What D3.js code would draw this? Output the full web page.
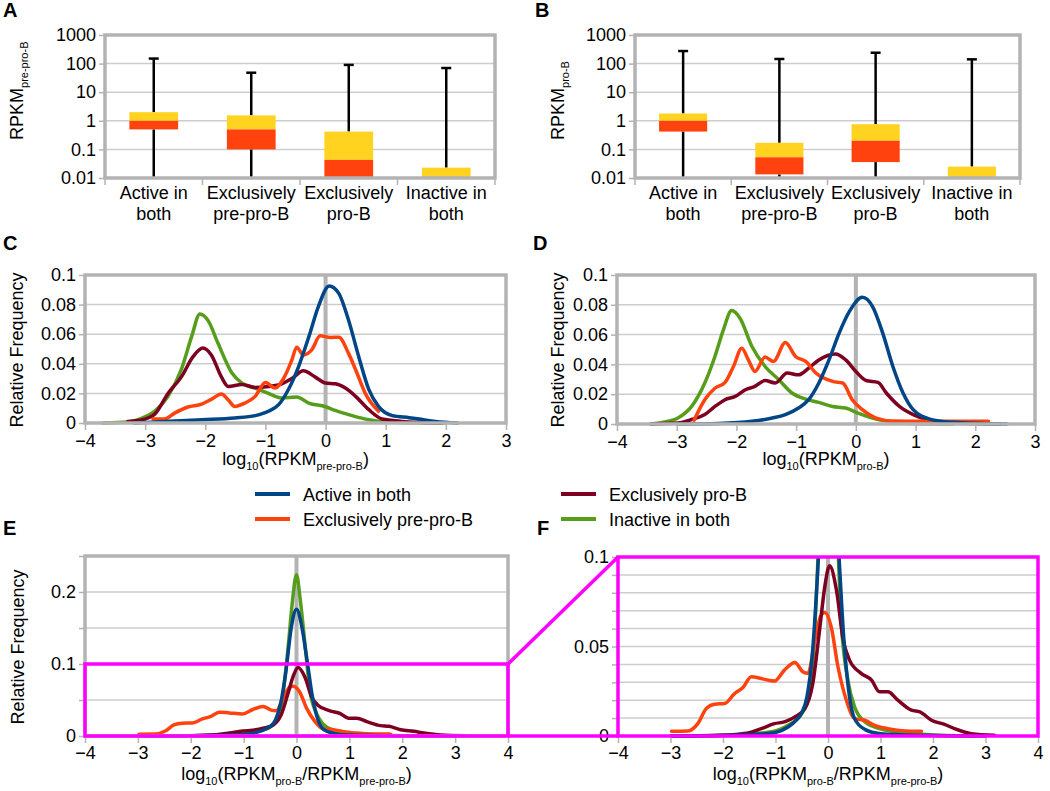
<!DOCTYPE html>
<html><head><meta charset="utf-8">
<script src="https://cdn.jsdelivr.net/npm/d3@7"></script>
<style>body{margin:0;background:#fff} text{font-family:"Liberation Sans",Arial,sans-serif;fill:#000}</style>
</head><body><svg id="c" width="1050" height="791"></svg>
<script>
// ---------- DATA ----------
const categories = ["Active in both","Exclusively pre-pro-B","Exclusively pro-B","Inactive in both"];
const categoryLines = [["Active in","both"],["Exclusively","pre-pro-B"],["Exclusively","pro-B"],["Inactive in","both"]];
const logTicks = [0.01,0.1,1,10,100,1000];

const boxA_min    = [0.01, 0.01, 0.01, 0.01];
const boxA_q1     = [0.5, 0.1, 0.01, 0.01];
const boxA_median = [1.0, 0.5, 0.043, 0.01];
const boxA_q3     = [2.0, 1.55, 0.42, 0.023];
const boxA_max    = [150, 48, 90, 70];

const boxB_min    = [0.01, 0.01, 0.01, 0.01];
const boxB_q1     = [0.42, 0.0134, 0.036, 0.01];
const boxB_median = [1.0, 0.053, 0.2, 0.01];
const boxB_q3     = [1.8, 0.17, 0.76, 0.025];
const boxB_max    = [275, 145, 240, 141];

const seriesNames = ["Active in both","Exclusively pre-pro-B","Exclusively pro-B","Inactive in both"];

// Panel C: log10(RPKM pre-pro-B) density  [x, frequency]
const C_active = [[-3.18,0],[-2.62,0.0011],[-2.06,0.0022],[-1.51,0.0034],[-1.17,0.005],[-0.95,0.0079],[-0.78,0.0124],[-0.62,0.0225],[-0.45,0.038],[-0.28,0.058],[-0.12,0.0787],[0.06,0.0926],[0.22,0.0876],[0.38,0.0697],[0.55,0.045],[0.72,0.0225],[0.88,0.0112],[1.11,0.005],[1.39,0.0036],[1.55,0.0027],[1.83,0.0011],[2.19,0]];
const C_prepro = [[-2.87,0.0027],[-2.68,0.0027],[-2.51,0.0067],[-2.29,0.0108],[-2.06,0.0128],[-1.9,0.016],[-1.73,0.0196],[-1.62,0.0157],[-1.51,0.0112],[-1.34,0.0135],[-1.17,0.018],[-1.0,0.0274],[-0.84,0.0236],[-0.7,0.030],[-0.56,0.0427],[-0.48,0.0512],[-0.37,0.046],[-0.23,0.0494],[-0.09,0.0589],[0.08,0.0578],[0.22,0.058],[0.38,0.0472],[0.5,0.036],[0.66,0.020],[0.88,0.0079]];
const C_pro = [[-3.29,0.001],[-3.07,0.002],[-2.84,0.006],[-2.62,0.02],[-2.4,0.031],[-2.2,0.045],[-2.04,0.0506],[-1.9,0.046],[-1.73,0.031],[-1.62,0.0247],[-1.39,0.026],[-1.17,0.024],[-0.95,0.0247],[-0.73,0.0265],[-0.56,0.030],[-0.37,0.0353],[-0.17,0.031],[0,0.027],[0.16,0.0265],[0.33,0.0236],[0.5,0.018],[0.72,0.009],[0.94,0.0027],[1.27,0.0011],[1.61,0.0004],[1.94,0]];
const C_inactive = [[-3.7,0],[-3.29,0.0007],[-3.07,0.003],[-2.84,0.008],[-2.62,0.018],[-2.4,0.036],[-2.23,0.058],[-2.09,0.0737],[-1.95,0.069],[-1.79,0.054],[-1.56,0.034],[-1.39,0.027],[-1.17,0.0236],[-0.95,0.020],[-0.73,0.0169],[-0.48,0.0175],[-0.28,0.0135],[0,0.011],[0.16,0.0085],[0.44,0.005],[0.72,0.0022],[1.0,0.0007],[1.55,0.0001],[2.0,0]];

// Panel D: log10(RPKM pro-B) density
const D_active = [[-3.0,0],[-2.3,0.0004],[-1.74,0.0018],[-1.4,0.004],[-1.18,0.0063],[-0.96,0.0107],[-0.79,0.0163],[-0.62,0.0275],[-0.45,0.043],[-0.28,0.061],[-0.11,0.0754],[0.11,0.085],[0.28,0.0788],[0.45,0.061],[0.62,0.0386],[0.79,0.0208],[0.96,0.0096],[1.24,0.0033],[1.63,0.0011],[2.19,0.0002],[2.53,0]];
const D_prepro = [[-2.71,0.0025],[-2.53,0.0163],[-2.36,0.024],[-2.19,0.0279],[-2.05,0.0386],[-1.91,0.0509],[-1.8,0.043],[-1.69,0.0353],[-1.52,0.0449],[-1.38,0.042],[-1.18,0.0547],[-1.01,0.0453],[-0.84,0.042],[-0.67,0.0342],[-0.39,0.0286],[-0.22,0.0275],[-0.06,0.0163],[0.11,0.0096],[0.34,0.004],[0.62,0.002],[1.07,0.0018],[1.63,0.0018],[2.22,0.0018]];
const D_pro = [[-3.43,0],[-2.98,0.0007],[-2.75,0.003],[-2.53,0.0063],[-2.36,0.0118],[-2.19,0.0163],[-2.02,0.0185],[-1.85,0.023],[-1.69,0.0252],[-1.52,0.0292],[-1.35,0.0275],[-1.15,0.0342],[-0.96,0.033],[-0.79,0.0375],[-0.62,0.043],[-0.34,0.047],[-0.17,0.043],[0,0.0353],[0.17,0.0292],[0.37,0.0279],[0.51,0.0208],[0.73,0.0118],[0.96,0.0063],[1.24,0.0025],[1.63,0.0007],[2.42,0]];
const D_inactive = [[-3.43,0],[-3.2,0.0013],[-2.98,0.004],[-2.75,0.0118],[-2.53,0.0275],[-2.36,0.0453],[-2.22,0.063],[-2.08,0.0761],[-1.94,0.071],[-1.74,0.052],[-1.52,0.0386],[-1.29,0.0297],[-1.07,0.0208],[-0.84,0.0167],[-0.62,0.0145],[-0.39,0.0118],[-0.17,0.0107],[0.06,0.0069],[0.34,0.0033],[0.67,0.0011],[1.07,0.0002],[1.63,0]];

// Panels E/F: log10(RPKM pro-B / RPKM pre-pro-B) density
const E_active = [[-3,0],[-2,0.0003],[-1.4,0.0009],[-1.0,0.002],[-0.76,0.005],[-0.6,0.009],[-0.5,0.013],[-0.4,0.022],[-0.3,0.045],[-0.2,0.09],[-0.1,0.15],[0,0.176],[0.1,0.152],[0.2,0.105],[0.3,0.055],[0.4,0.024],[0.5,0.01],[0.7,0.0037],[1.0,0.0013],[1.8,0.0004],[3.0,0]];
const E_prepro = [[-2.98,0.0026],[-2.67,0.0028],[-2.48,0.0069],[-2.32,0.0153],[-2.16,0.0178],[-1.97,0.0181],[-1.78,0.0237],[-1.62,0.0271],[-1.46,0.0331],[-1.27,0.0321],[-1.02,0.0307],[-0.83,0.0368],[-0.63,0.0411],[-0.48,0.0359],[-0.38,0.035],[-0.25,0.0536],[-0.13,0.0677],[-0.06,0.069],[0.06,0.0611],[0.19,0.0387],[0.35,0.02],[0.51,0.0097],[0.7,0.0088],[0.89,0.006],[1.14,0.0041],[1.46,0.0028],[1.78,0.0026]];
const E_pro = [[-2.98,0],[-2.03,0.0004],[-1.52,0.0017],[-1.27,0.0041],[-1.02,0.0069],[-0.83,0.0079],[-0.63,0.0107],[-0.44,0.0153],[-0.29,0.0293],[-0.16,0.0593],[-0.06,0.0836],[0.03,0.0951],[0.16,0.0817],[0.29,0.0536],[0.41,0.0424],[0.63,0.035],[0.83,0.0312],[0.98,0.0247],[1.14,0.0247],[1.33,0.02],[1.59,0.0144],[1.75,0.0135],[1.97,0.0088],[2.22,0.0065],[2.41,0.0041],[2.73,0.0013],[3.17,0.0004]];
const E_inactive = [[-2.8,0],[-2.0,0.0004],[-1.4,0.0013],[-1.0,0.0028],[-0.76,0.006],[-0.5,0.0125],[-0.38,0.021],[-0.28,0.045],[-0.15,0.13],[-0.08,0.185],[0,0.224],[0.07,0.19],[0.17,0.12],[0.25,0.065],[0.38,0.031],[0.51,0.016],[0.7,0.008],[1.0,0.004],[1.46,0.0019],[2.1,0.0004],[2.8,0]];

const ticksCD_y = [0,0.02,0.04,0.06,0.08,0.1];
const ticksE_y = [0,0.05,0.1,0.15,0.2,0.25];
const labelsE_y = [0,0.1,0.2];
const ticksF_y = [0,0.01,0.02,0.03,0.04,0.05,0.06,0.07,0.08,0.09,0.1];
const labelsF_y = [0,0.05,0.1];

// ---------- STYLE ----------
const seriesColors = ["#004586","#ff420e","#7e0021","#579d1c"];
const GRAY = "#b3b3b3", GRID = "#cdcdcd", MAGENTA = "#ff00ff";
const svg = d3.select("#c");
const fmt = d3.format("~g");

function rich(parent, x, y, parts, opts = {}) {
  const t = parent.append("text").attr("font-size", opts.size || 18).attr("text-anchor", opts.anchor || "middle");
  if (opts.rotate) t.attr("transform", `translate(${x},${y}) rotate(-90)`);
  else t.attr("x", x).attr("y", y);
  let shifted = false;
  parts.forEach(([s, sub]) => {
    const ts = t.append("tspan").text(s);
    if (sub) { ts.attr("font-size", 11); if (!shifted) { ts.attr("dy", 5); shifted = true; } }
    else if (shifted) { ts.attr("dy", -5); shifted = false; }
  });
  return t;
}
function letter(s, x, y) {
  svg.append("text").attr("x", x).attr("y", y).attr("font-size", 20).attr("font-weight", "bold").text(s);
}
function styleAxis(sel) {
  sel.select(".domain").remove();
  sel.selectAll(".tick line").attr("stroke", GRAY).attr("stroke-width", 1.5);
  sel.selectAll(".tick text").attr("font-size", 18).attr("font-family", '"Liberation Sans",Arial,sans-serif').attr("fill", "#000");
}

// ---------- BOX PANELS ----------
function boxPanel(o) {
  const g = svg.append("g");
  const x = d3.scaleBand().domain(categories).range([o.left, o.right]);
  const y = d3.scaleLog().domain([0.01, 1000]).range([o.bottom, o.top]);
  g.selectAll(null).data(logTicks.slice(1, -1)).join("line")
    .attr("x1", o.left).attr("x2", o.right).attr("y1", d => y(d)).attr("y2", d => y(d))
    .attr("stroke", GRID).attr("stroke-width", 1.5);
  const bw = x.bandwidth() * 0.5;
  categories.forEach((c, i) => {
    const cx = x(c) + x.bandwidth() / 2;
    g.append("line").attr("x1", cx).attr("x2", cx).attr("y1", y(o.max[i])).attr("y2", y(o.q3[i])).attr("stroke", "#000").attr("stroke-width", 2.5);
    g.append("line").attr("x1", cx - 5).attr("x2", cx + 5).attr("y1", y(o.max[i])).attr("y2", y(o.max[i])).attr("stroke", "#000").attr("stroke-width", 2.5);
    if (o.q1[i] > o.min[i])
      g.append("line").attr("x1", cx).attr("x2", cx).attr("y1", y(o.q1[i])).attr("y2", y(o.min[i])).attr("stroke", "#000").attr("stroke-width", 2.5);
    g.append("rect").attr("x", cx - bw / 2).attr("width", bw).attr("y", y(o.q3[i])).attr("height", y(o.median[i]) - y(o.q3[i])).attr("fill", "#ffd320");
    g.append("rect").attr("x", cx - bw / 2).attr("width", bw).attr("y", y(o.median[i])).attr("height", y(o.q1[i]) - y(o.median[i])).attr("fill", "#ff420e");
    categoryLines[i].forEach((s, k) => g.append("text").attr("x", cx).attr("y", o.bottom + 21 + k * 21).attr("text-anchor", "middle").attr("font-size", 18).text(s));
  });
  const bounds = categories.map(c => x(c)).concat([o.right]);
  g.selectAll(null).data(bounds).join("line").attr("x1", d => d).attr("x2", d => d).attr("y1", o.bottom).attr("y2", o.bottom + 7).attr("stroke", GRAY).attr("stroke-width", 1.5);
  g.append("rect").attr("x", o.left).attr("y", o.top).attr("width", o.right - o.left).attr("height", o.bottom - o.top).attr("fill", "none").attr("stroke", GRAY).attr("stroke-width", 3.5);
  const ax = g.append("g").attr("transform", `translate(${o.left - 1},0)`).call(d3.axisLeft(y).tickValues(logTicks).tickFormat(fmt).tickSize(5).tickPadding(3));
  styleAxis(ax);
  rich(g, o.ylabX, 140, [["RPKM", false], [o.ylabSub, true]], { rotate: true, anchor: "start" });
}

boxPanel({ left: 105, right: 495, top: 35, bottom: 178, min: boxA_min, q1: boxA_q1, median: boxA_median, q3: boxA_q3, max: boxA_max, ylabX: 23, ylabSub: "pre-pro-B" });
boxPanel({ left: 635, right: 1020, top: 35, bottom: 178, min: boxB_min, q1: boxB_q1, median: boxB_median, q3: boxB_q3, max: boxB_max, ylabX: 564, ylabSub: "pro-B" });

// ---------- CURVE PANELS ----------
function curvePanel(o) {
  const g = svg.append("g");
  const x = d3.scaleLinear().domain(o.xdom).range([o.left, o.right]);
  const y = d3.scaleLinear().domain(o.ydom).range([o.bottom, o.top]);
  g.selectAll(null).data(o.grid).join("line")
    .attr("x1", o.left).attr("x2", o.right).attr("y1", d => y(d)).attr("y2", d => y(d))
    .attr("stroke", GRID).attr("stroke-width", 1.5);
  g.append("line").attr("x1", x(0)).attr("x2", x(0)).attr("y1", o.top).attr("y2", o.bottom).attr("stroke", GRAY).attr("stroke-width", 4);
  const id = "clip" + o.id;
  svg.append("clipPath").attr("id", id).append("rect").attr("x", o.left - 5).attr("y", o.top).attr("width", o.right - o.left + 10).attr("height", o.bottom - o.top + 6);
  const line = d3.line().x(d => x(d[0])).y(d => y(d[1])).curve(d3.curveMonotoneX);
  const cg = g.append("g").attr("clip-path", `url(#${id})`);
  o.order.forEach(i => cg.append("path").attr("d", line(o.series[i])).attr("fill", "none")
    .attr("stroke", seriesColors[i]).attr("stroke-width", 3.5).attr("stroke-linejoin", "round").attr("stroke-linecap", "round"));
  const xa = g.append("g").attr("transform", `translate(0,${o.bottom + 1})`)
    .call(d3.axisBottom(x).tickValues(d3.range(o.xdom[0], o.xdom[1] + 1)).tickFormat(d3.format("d")).tickSize(6).tickPadding(o.xpad));
  styleAxis(xa);
  const ya = g.append("g").attr("transform", `translate(${o.left - 1},0)`)
    .call(d3.axisLeft(y).tickValues(o.yticks).tickFormat(d => o.ylabels.some(v => Math.abs(v - d) < 1e-9) ? fmt(d) : "").tickSize(5).tickPadding(3));
  styleAxis(ya);
  g.append("rect").attr("x", o.left).attr("y", o.top).attr("width", o.right - o.left).attr("height", o.bottom - o.top)
    .attr("fill", "none").attr("stroke", o.frameColor || GRAY).attr("stroke-width", o.frameWidth || 3.5);
  if (o.ylab) g.append("text").attr("transform", `translate(${o.ylabX},${o.ylabY}) rotate(-90)`).attr("text-anchor", "middle").attr("font-size", 18).text("Relative Frequency");
  rich(g, (o.left + o.right) / 2, o.titleY, o.title);
  return { x, y };
}

curvePanel({ id: "C", left: 85, right: 506, top: 275, bottom: 423, xdom: [-4, 3], ydom: [0, 0.1], grid: ticksCD_y, yticks: ticksCD_y, ylabels: ticksCD_y,
  series: [C_active, C_prepro, C_pro, C_inactive], order: [3, 2, 1, 0], xpad: 4, ylab: true, ylabX: 23, ylabY: 350, titleY: 465,
  title: [["log", false], ["10", true], ["(RPKM", false], ["pre-pro-B", true], [")", false]] });
curvePanel({ id: "D", left: 617, right: 1035, top: 275, bottom: 424, xdom: [-4, 3], ydom: [0, 0.1], grid: ticksCD_y, yticks: ticksCD_y, ylabels: ticksCD_y,
  series: [D_active, D_prepro, D_pro, D_inactive], order: [3, 2, 1, 0], xpad: 4, ylab: true, ylabX: 564, ylabY: 350, titleY: 465,
  title: [["log", false], ["10", true], ["(RPKM", false], ["pro-B", true], [")", false]] });

const ratioTitle = [["log", false], ["10", true], ["(RPKM", false], ["pro-B", true], ["/RPKM", false], ["pre-pro-B", true], [")", false]];
const pE = curvePanel({ id: "E", left: 85, right: 508, top: 556, bottom: 736, xdom: [-4, 4], ydom: [0, 0.25], grid: ticksE_y, yticks: ticksE_y, ylabels: labelsE_y,
  series: [E_active, E_prepro, E_pro, E_inactive], order: [3, 1, 2, 0], xpad: 3, ylab: true, ylabX: 24, ylabY: 647, titleY: 780, title: ratioTitle });
const pF = curvePanel({ id: "F", left: 618, right: 1038, top: 557, bottom: 736, xdom: [-4, 4], ydom: [0, 0.1], grid: ticksF_y, yticks: ticksF_y, ylabels: labelsF_y,
  series: [E_active, E_prepro, E_pro, E_inactive], order: [3, 1, 2, 0], xpad: 3, ylab: false, titleY: 780, title: ratioTitle,
  frameColor: MAGENTA, frameWidth: 3.5 });

svg.append("rect").attr("x", pE.x(-4)).attr("y", pE.y(0.1)).attr("width", pE.x(4) - pE.x(-4)).attr("height", pE.y(0) - pE.y(0.1))
  .attr("fill", "none").attr("stroke", MAGENTA).attr("stroke-width", 3.5);
svg.append("line").attr("x1", pE.x(4)).attr("y1", pE.y(0.1)).attr("x2", pF.x(-4)).attr("y2", pF.y(0.1)).attr("stroke", MAGENTA).attr("stroke-width", 3.5);
svg.append("line").attr("x1", pE.x(4)).attr("y1", pE.y(0)).attr("x2", pF.x(-4)).attr("y2", pF.y(0)).attr("stroke", MAGENTA).attr("stroke-width", 3.5);

// ---------- LEGEND ----------
const legendPos = [[255, 494], [255, 519], [561, 494], [561, 519]];
seriesNames.forEach((n, i) => {
  const [lx, ly] = legendPos[i];
  svg.append("line").attr("x1", lx).attr("x2", lx + 35).attr("y1", ly).attr("y2", ly).attr("stroke", seriesColors[i]).attr("stroke-width", 4);
  svg.append("text").attr("x", lx + 48).attr("y", ly + 6.5).attr("font-size", 18).text(n);
});

letter("A", 3, 17); letter("B", 535, 17); letter("C", 3, 250); letter("D", 533, 250); letter("E", 3, 535); letter("F", 537, 535);
</script></body></html>
